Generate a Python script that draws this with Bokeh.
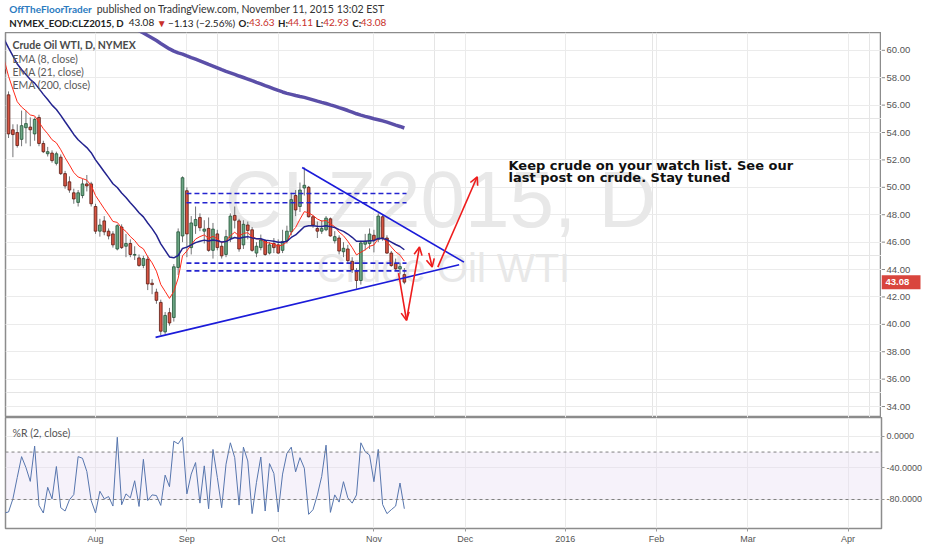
from bokeh.plotting import figure
from bokeh.layouts import column, row
from bokeh.models import (Range1d, FixedTicker, Grid, Span, BoxAnnotation, Arrow,
                          OpenHead, ColumnDataSource, NumeralTickFormatter)
from bokeh.core.properties import value
from bokeh.embed import file_html
from bokeh.resources import INLINE

# ---------------- data (bar index = trading day, 1 = 2015-07-02 ... 93 = 2015-11-11) -------------
bars = list(range(1, 94))
opens = [58.6, 56.75, 54.2, 54.0, 53.5, 54.35, 54.4, 53.9, 55.1, 53.2,
         52.45, 52.5, 51.75, 52.2, 51.0, 50.4, 49.6, 48.9, 49.4, 50.25,
         50.25, 48.6, 46.8, 47.55, 46.8, 46.6, 45.5, 47.1, 45.7, 45.9,
         45.05, 44.85, 44.3, 44.75, 43.0, 42.35, 41.6, 39.45, 40.85, 40.5,
         44.15, 46.45, 49.75, 45.6, 47.2, 47.8, 46.8, 47.0, 45.4, 46.6,
         45.7, 45.1, 46.3, 47.95, 47.55, 45.8, 47.25, 46.9, 45.2, 45.6,
         46.1, 45.2, 45.9, 45.8, 45.4, 46.1, 46.75, 49.4, 48.6, 49.95,
         50.0, 47.85, 47.0, 46.8, 46.9, 47.7, 46.1, 46.3, 45.3, 45.5,
         44.6, 43.85, 43.2, 45.85, 45.9, 46.5, 46.2, 47.85, 46.3, 45.2,
         44.45, 44.05, 43.63]
highs = [59.2, 57.0, 54.6, 54.6, 55.6, 55.6, 55.1, 55.1, 55.3, 53.4,
         52.95, 52.7, 52.6, 52.4, 51.2, 50.8, 49.9, 49.8, 50.6, 50.9,
         50.4, 48.8, 47.7, 47.9, 47.0, 46.8, 47.3, 47.3, 46.6, 46.2,
         45.7, 45.1, 45.0, 45.0, 43.3, 42.6, 41.8, 40.9, 41.2, 44.4,
         47.0, 50.8, 50.0, 47.9, 48.6, 48.1, 47.6, 47.8, 47.4, 46.9,
         46.0, 46.9, 48.1, 48.6, 47.7, 47.6, 47.5, 47.1, 46.0, 46.55,
         46.2, 46.0, 46.3, 46.2, 46.9, 47.2, 49.6, 49.8, 50.35, 51.45,
         50.1, 47.95, 47.5, 47.6, 47.9, 47.8, 46.8, 46.5, 46.0, 45.8,
         44.9, 44.1, 46.1, 46.6, 47.0, 46.9, 48.1, 48.0, 46.5, 45.35,
         44.8, 44.5, 44.11]
lows = [57.9, 53.6, 52.2, 52.9, 53.0, 53.2, 53.0, 53.4, 53.0, 52.5,
        52.25, 51.8, 51.6, 50.9, 49.9, 49.6, 48.8, 48.6, 49.2, 49.7,
        48.6, 46.6, 46.4, 46.5, 46.2, 45.6, 45.4, 45.5, 44.9, 44.9,
        44.7, 44.2, 44.1, 42.5, 42.2, 41.5, 39.2, 39.3, 39.9, 40.2,
        43.6, 46.0, 44.9, 45.1, 46.6, 46.8, 45.9, 45.3, 44.8, 45.4,
        44.8, 44.9, 46.0, 47.0, 45.3, 45.5, 46.2, 45.3, 44.9, 45.4,
        45.0, 45.1, 45.2, 45.15, 45.2, 45.9, 46.5, 47.9, 48.2, 49.4,
        47.8, 47.05, 46.3, 46.6, 46.8, 46.4, 45.9, 45.1, 44.9, 44.45,
        43.75, 42.6, 42.9, 45.4, 45.5, 45.25, 46.0, 46.1, 45.15, 44.2,
        43.9, 43.65, 42.93]
closes = [58.3, 53.9, 53.85, 53.05, 54.5, 54.65, 54.2, 54.95, 53.2, 52.6,
          52.6, 51.95, 52.45, 51.0, 50.1, 49.8, 49.15, 49.6, 50.25, 50.1,
          48.8, 46.8, 47.25, 46.75, 46.45, 45.8, 47.2, 45.6, 45.9, 45.1,
          45.1, 44.3, 44.8, 42.95, 42.9, 41.75, 39.5, 40.65, 40.1, 44.2,
          46.75, 50.7, 46.6, 47.4, 47.65, 47.05, 46.95, 45.4, 46.95, 45.6,
          45.0, 46.4, 47.9, 47.6, 45.5, 47.3, 46.85, 45.4, 45.7, 46.15,
          45.1, 45.8, 45.6, 45.2, 46.05, 46.8, 49.1, 48.35, 49.8, 50.15,
          47.85, 47.25, 46.8, 47.0, 47.75, 46.45, 46.4, 45.35, 45.55, 44.65,
          43.98, 43.2, 45.94, 46.06, 46.59, 46.14, 47.9, 46.32, 45.2, 44.29,
          44.05, 44.21, 43.08]
# Williams %R (2, close)
wr_values = [-97.1, -95.8, -79.2, -52.1, -25.8, -39.6, -57.1, -12.5, -87.5, -97.1,
             -64.6, -79.2, -38.3, -90.4, -94.6, -80.4, -73.8, -25.8, -27.9, -44.6,
             -81.3, -97.1, -69.6, -79.2, -76.3, -88.3, -1.3, -86.7, -72.9, -77.9,
             -56.3, -88.8, -29.2, -81.3, -74.2, -75.0, -87.5, -49.2, -63.8, -6.3,
             -9.6, -1.3, -72.9, -47.9, -33.3, -84.6, -37.5, -91.7, -16.7, -52.1,
             -90.4, -35.4, -8.3, -27.1, -87.1, -13.8, -31.3, -97.9, -58.3, -26.3,
             -94.6, -34.6, -47.1, -95.8, -47.9, -21.7, -13.8, -45.0, -27.1, -40.4,
             -98.8, -92.9, -74.2, -50.8, -11.3, -96.3, -74.2, -83.3, -57.5, -77.9,
             -84.6, -74.2, -8.3, -19.6, -23.8, -57.5, -16.7, -86.3, -97.9, -92.9,
             -88.3, -59.2, -91.7]
# EMA values just before the first bar (from earlier history)
ema8_seed = 59.6
ema21_seed = 61.05
ema200_seed = 65.8

month_labels = ["Aug", "Sep", "Oct", "Nov", "Dec", "2016", "Feb", "Mar", "Apr"]
month_bars = [22, 43, 64, 86, 107, 130, 151, 172, 195]
price_ticks = [34, 36, 38, 40, 42, 44, 46, 48, 50, 52, 54, 56, 58, 60]
wr_ticks = [0, -40, -80]
wr_band = [-80, -20]
last_price = 43.08

# drawings (bar index, price)
channel_levels = [49.55, 48.87, 44.47, 43.90]
channel_from = 42.9
channel_to = 93.5
trend_lower_x = [35.8, 105.6]
trend_lower_y = [39.05, 44.35]
trend_upper_x = [69.5, 106.7]
trend_upper_y = [51.45, 44.54]
arrow_x0 = [91.66, 93.49, 98.62, 100.69]
arrow_y0 = [43.74, 40.29, 45.22, 44.18]
arrow_x1 = [93.49, 96.48, 99.40, 109.75]
arrow_y1 = [40.29, 45.64, 44.18, 50.77]

# ---------------- layout constants ----------------
X0, X1 = 1.3, 202.7
Y0, Y1 = 33.2, 61.3
FL, FW, RB = 5, 876, 51
TOP, MH, RH = 32, 385, 111


def ema(vals, n, seed):
    a = 2.0 / (n + 1)
    out, e = [], seed
    for v in vals:
        e += a * (v - e)
        out.append(e)
    return out


def fx(px):  # picture pixel x -> bar units
    return X0 + (px - FL) / float(FW) * (X1 - X0)


def fy(py):  # picture pixel y -> price units
    return Y1 - (py - TOP) / float(MH) * (Y1 - Y0)


ema8 = ema(closes, 8, ema8_seed)
ema21 = ema(closes, 21, ema21_seed)
ema200 = ema(closes, 200, ema200_seed)

FONT = value("Lato")
AXF = "Liberation Sans"

# ---------------- header ----------------
hdr = figure(width=932, height=TOP, x_range=Range1d(0, 932), y_range=Range1d(TOP, 0),
             toolbar_location=None, output_backend="svg", min_border=0,
             x_axis_location=None, y_axis_location=None, outline_line_color=None)
hdr.grid.visible = False
hdr.text(x=[4], y=[8], text=["OffTheFloorTrader"], text_font=FONT, text_font_size="10px",
         text_font_style="bold", text_color="#2b7bbf", text_baseline="middle")
hdr.text(x=[97], y=[8], text=["published on TradingView.com, November 11, 2015 13:02 EST"],
         text_font=FONT, text_font_size="10.5px", text_color="#333333", text_baseline="middle")
hdr.text(x=[4, 248, 290, 330, 369], y=[22] * 5, text=["NYMEX_EOD:CLZ2015, D", "O:", "H:", "L:", "C:"],
         text_font=FONT, text_font_size="9.7px", text_font_style="bold", text_color="#222222",
         text_baseline="middle")
hdr.text(x=[131, 173], y=[22] * 2, text=["43.08", "\u22121.13 (\u22122.56%)"],
         text_font=FONT, text_font_size="10px", text_color="#222222", text_baseline="middle")
hdr.text(x=[161, 259, 300, 338, 378], y=[22] * 5, text=["\u25bc", "43.63", "44.11", "42.93", "43.08"],
         text_font=FONT, text_font_size="10px", text_color="#c8302a", text_baseline="middle")

# ---------------- main price pane ----------------
p = figure(frame_width=FW, frame_height=MH, x_range=Range1d(X0, X1), y_range=Range1d(Y0, Y1),
           x_axis_location=None, y_axis_location=None, toolbar_location=None,
           output_backend="svg", min_border_left=FL, min_border_right=0,
           min_border_top=0, min_border_bottom=0)
p.outline_line_color = "#8c8c8c"
p.outline_line_width = 1.5
p.add_layout(Grid(dimension=0, ticker=FixedTicker(ticks=month_bars), grid_line_color="#ebebeb"))
p.add_layout(Grid(dimension=1, ticker=FixedTicker(ticks=price_ticks), grid_line_color="#ebebeb"))

# watermark
p.text(x=[fx(440)], y=[fy(199)], text=["CLZ2015, D"], text_font=value(AXF), text_font_size="80px",
       text_color="#e8e8e8", text_align="center", text_baseline="middle")
p.text(x=[fx(443)], y=[fy(267)], text=["Crude Oil WTI"], text_font=value(AXF), text_font_size="40px",
       text_color="#e8e8e8", text_align="center", text_baseline="middle")

# candles
up = [i for i in range(len(bars)) if closes[i] >= opens[i]]
dn = [i for i in range(len(bars)) if closes[i] < opens[i]]
for idx, fill, edge in ((up, "#6ba583", "#225437"), (dn, "#d75442", "#5b1a13")):
    src = ColumnDataSource(dict(
        x=[bars[i] for i in idx], h=[highs[i] for i in idx], l=[lows[i] for i in idx],
        top=[max(opens[i], closes[i]) for i in idx], bot=[min(opens[i], closes[i]) for i in idx]))
    p.segment(x0="x", y0="h", x1="x", y1="l", source=src, line_color="#737375", line_width=1)
    p.vbar(x="x", width=0.62, top="top", bottom="bot", source=src, fill_color=fill,
           line_color=edge, line_width=0.8)

# EMAs
p.line(bars, ema8, line_color="#ff2a1a", line_width=1)
p.line(bars, ema21, line_color="#23238f", line_width=1.5)
p.line(bars, ema200, line_color="#5b4fa8", line_width=3.5)

# legend texts
p.text(x=[fx(12)], y=[fy(44)], text=["Crude Oil WTI, D, NYMEX"], text_font=FONT,
       text_font_size="10.5px", text_font_style="bold", text_color="#4a4a4a", text_baseline="middle")
p.text(x=[fx(12)] * 3, y=[fy(58), fy(71), fy(84)],
       text=["EMA (8, close)", "EMA (21, close)", "EMA (200, close)"], text_font=FONT,
       text_font_size="10.5px", text_color="#5a5a5a", text_baseline="middle")

# drawings
n = len(channel_levels)
p.segment(x0=[channel_from] * n, y0=channel_levels, x1=[channel_to] * n, y1=channel_levels,
          line_color="#2424d0", line_width=1.6, line_dash="5 3")
p.line(trend_lower_x, trend_lower_y, line_color="#1b1bd9", line_width=1.6)
p.line(trend_upper_x, trend_upper_y, line_color="#1b1bd9", line_width=1.6)
for a, b, c, d in zip(arrow_x0, arrow_y0, arrow_x1, arrow_y1):
    p.add_layout(Arrow(end=OpenHead(size=8, line_color="#ee1c1c", line_width=1.6),
                       x_start=a, y_start=b, x_end=c, y_end=d,
                       line_color="#ee1c1c", line_width=1.6))
p.text(x=[fx(508)] * 2, y=[fy(165), fy(177)],
       text=["Keep crude on your watch list.  See our", "last post on crude.  Stay tuned"],
       text_font=value("DejaVu Sans"), text_font_size="13px", text_font_style="bold",
       text_color="#111111", text_baseline="middle")

# ---------------- price scale strip (right of the main pane) ----------------
ps = figure(width=RB, height=MH, x_range=Range1d(0, RB), y_range=p.y_range,
            x_axis_location=None, y_axis_location=None, toolbar_location=None,
            output_backend="svg", min_border=0, outline_line_color=None)
ps.grid.visible = False
ps.segment(x0=[0] * len(price_ticks), y0=price_ticks, x1=[3.5] * len(price_ticks), y1=price_ticks,
           line_color="#888888", line_width=1)
ps.text(x=[5] * len(price_ticks), y=price_ticks, text=["%.2f" % t for t in price_ticks],
        text_font=value(AXF), text_font_size="9.5px", text_color="#555555", text_baseline="middle")
tag_half = 7.0 / MH * (Y1 - Y0)
ps.quad(left=[0], right=[39], bottom=[last_price - tag_half], top=[last_price + tag_half],
        fill_color="#d9453d", line_color=None)
ps.text(x=[4], y=[last_price], text=["%.2f" % last_price], text_font=value(AXF),
        text_font_size="9.5px", text_font_style="bold", text_color="white", text_baseline="middle")

# ---------------- %R pane ----------------
q = figure(frame_width=FW, frame_height=RH, x_range=p.x_range, y_range=Range1d(-116.7, 23.7),
           y_axis_location="right", toolbar_location=None, output_backend="svg",
           min_border_left=FL, min_border_right=RB, min_border_top=0, min_border_bottom=17)
q.outline_line_color = "#8c8c8c"
q.outline_line_width = 1.5
mt = FixedTicker(ticks=month_bars)
q.xaxis.ticker = mt
q.xgrid.ticker = mt
q.xaxis.major_label_overrides = {b: lab for b, lab in zip(month_bars, month_labels)}
wt = FixedTicker(ticks=wr_ticks)
q.yaxis.ticker = wt
q.ygrid.ticker = wt
q.yaxis.formatter = NumeralTickFormatter(format="0.0000")
q.grid.grid_line_color = "#ebebeb"
for ax in list(q.xaxis) + list(q.yaxis):
    ax.axis_line_color = None
    ax.major_tick_out = 3
    ax.major_tick_in = 0
    ax.major_tick_line_color = "#999999"
    ax.minor_tick_line_color = None
    ax.major_label_text_font = AXF
    ax.major_label_text_font_size = "9px"
    ax.major_label_text_color = "#555555"
    ax.major_label_standoff = 2
q.add_layout(BoxAnnotation(bottom=wr_band[0], top=wr_band[1], fill_color="#e6d9f2",
                           fill_alpha=0.35, line_color=None, level="underlay"))
for lv in wr_band:
    q.add_layout(Span(location=lv, dimension="width", line_color="#808080",
                      line_dash="3 3", line_width=1))
q.line(bars, wr_values, line_color="#5675ad", line_width=1)
q.text(x=[fx(12)], y=[4.0], text=["%R (2, close)"], text_font=FONT, text_font_size="10.5px",
       text_color="#555555", text_baseline="middle")

# bottom border of the chart
bl = figure(width=932, height=2, toolbar_location=None, output_backend="svg", min_border=0,
            x_axis_location=None, y_axis_location=None, outline_line_color=None,
            background_fill_color="#8c8c8c", border_fill_color="#8c8c8c")
bl.grid.visible = False

layout = column(hdr, row(p, ps), q, bl)
open("out.html", "w").write(file_html(layout, INLINE))
